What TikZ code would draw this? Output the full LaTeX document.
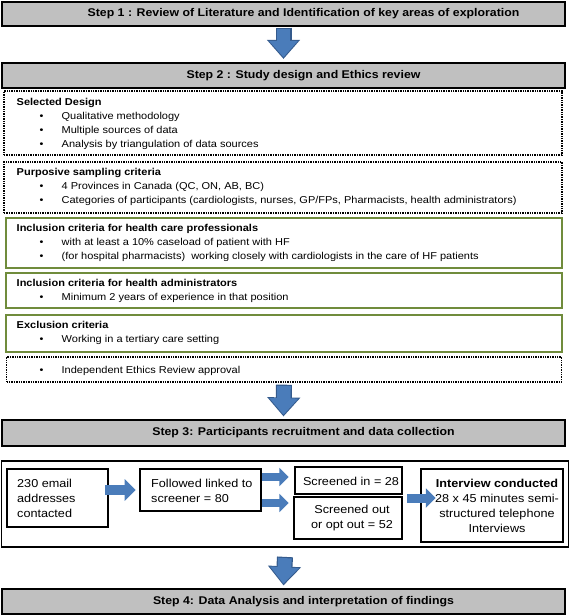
\documentclass[tikz,border=0pt]{standalone}
\usepackage{fontspec}
\setmainfont{Liberation Sans}[FakeStretch=1.1]
\usetikzlibrary{arrows.meta,calc}
\definecolor{stepgray}{RGB}{192,192,192}
\definecolor{boxgreen}{RGB}{112,140,60}
\definecolor{arrblue}{RGB}{74,124,186}
\definecolor{arrdark}{RGB}{52,90,140}
\newcommand{\itm}[1]{\hspace*{23pt}\makebox[22pt][l]{\textbullet}#1}
\newcommand{\stepshift}{\hspace*{40pt}}
\begin{document}
\begin{tikzpicture}[x=1pt,y=-1pt,
  stepbox/.style={draw=black,line width=2.2pt,fill=stepgray,inner sep=0pt,
     font=\bfseries\fontsize{11.2}{13}\selectfont,minimum width=563pt},
  dotbox/.style={draw=black,densely dotted,line width=1.4pt,inner sep=0pt},
  greenbox/.style={draw=boxgreen,line width=1.2pt,inner sep=0pt},
  listtext/.style={anchor=base west,align=left,inner sep=0pt,
     font=\fontsize{10}{14}\selectfont},
  rbox/.style={draw=black,line width=2.6pt,inner sep=0pt},
  bigbox/.style={draw=black,line width=1.8pt,inner sep=0pt},
  rtext/.style={align=left,inner sep=0pt,font=\fontsize{11.5}{15}\selectfont},
  bigarrowout/.style={draw=arrdark,line width=16pt,
     -{Triangle[width=32pt,length=19pt]}},
  bigarrowin/.style={draw=arrblue,line width=13.6pt,
     -{Triangle[width=28pt,length=16.5pt]}},
  smallarrow/.style={draw=arrblue,line width=#1,
     -{Triangle[width=2.1*#1,length=1.1*#1]}},
]
\useasboundingbox (0,0) rectangle (570,616);

% Step boxes
\node[stepbox,minimum height=24pt] (s1) at (283.5,14) {\stepshift Step 1 : Review of Literature and Identification of key areas of exploration};
\node[stepbox,minimum height=25pt] (s2) at (283.5,75.5) {\stepshift Step 2 : Study design and Ethics review};
\node[stepbox,minimum height=26pt] (s3) at (283.5,433) {\stepshift Step 3: Participants recruitment and data collection};
\node[stepbox,minimum height=25pt] (s4) at (283.5,601.5) {\stepshift Step 4: Data Analysis and interpretation of findings};

% Step 2 sub-boxes (text nodes anchored at the baseline of their last line)
\node[dotbox,minimum width=558pt,minimum height=64pt] (sel) at (283,123) {};
\node[listtext] (selt) at (16.5,147) {\textbf{Selected Design}\\
  \itm{Qualitative methodology}\\
  \itm{Multiple sources of data}\\
  \itm{Analysis by triangulation of data sources}};

\node[dotbox,minimum width=558pt,minimum height=51pt] (pur) at (283,187.5) {};
\node[listtext] (purt) at (16.5,203) {\textbf{Purposive sampling criteria}\\
  \itm{4 Provinces in Canada (QC, ON, AB, BC)}\\
  \itm{Categories of participants (cardiologists, nurses, GP/FPs, Pharmacists, health administrators)}};

\node[greenbox,minimum width=556pt,minimum height=50pt] (hcp) at (284,243) {};
\node[listtext] (hcpt) at (16.5,259) {\textbf{Inclusion criteria for health care professionals}\\
  \itm{with at least a 10\% caseload of patient with HF}\\
  \itm{(for hospital pharmacists)\ \ working closely with cardiologists in the care of HF patients}};

\node[greenbox,minimum width=556pt,minimum height=35pt] (adm) at (284,290.5) {};
\node[listtext] (admt) at (16.5,300) {\textbf{Inclusion criteria for health administrators}\\
  \itm{Minimum 2 years of experience in that position}};

\node[greenbox,minimum width=556pt,minimum height=37pt] (exc) at (284,333.5) {};
\node[listtext] (exct) at (16.5,342) {\textbf{Exclusion criteria}\\
  \itm{Working in a tertiary care setting}};

\node[dotbox,minimum width=555pt,minimum height=25pt] (eth) at (284,369.5) {};
\node[listtext] (etht) at (16.5,373) {\itm{Independent Ethics Review approval}};

% Recruitment
\node[bigbox,minimum width=567pt,minimum height=86pt] (big) at (285,504) {};
\node[rbox,minimum width=101pt,minimum height=58pt] (e1) at (57.5,498) {};
\node[rtext,anchor=base west] (e1t) at (17,517) {230 email\\addresses\\contacted};
\node[rbox,minimum width=121pt,minimum height=42pt] (fl) at (200.5,490) {};
\node[rtext,anchor=base west] (flt) at (151,502) {Followed linked to\\screener = 80};
\node[rbox,minimum width=107pt,minimum height=27pt] (si) at (348.5,480.5) {};
\node[rtext,align=center] (sit) at (351,481) {Screened in = 28};
\node[rbox,minimum width=108pt,minimum height=42pt] (so) at (348,518) {};
\node[rtext,align=center] (sot) at (352,518.5) {Screened out\\or opt out = 52};
\node[rbox,minimum width=142pt,minimum height=73pt] (iv) at (492,505.5) {};
\node[rtext,align=center] (ivt) at (497,505.5) {\textbf{Interview conducted}\\28 x 45 minutes semi-\\structured telephone\\Interviews};

% Big block arrows
\draw[bigarrowout] ($(s1.south)+(0,0.5)$) -- ($(s2.north)+(0,-3)$);
\draw[bigarrowin] ($(s1.south)+(0,1.7)$) -- ($(s2.north)+(0,-4.6)$);
\draw[bigarrowout] ($(eth.south)+(0,2)$) -- ($(s3.north)+(0,-2.5)$);
\draw[bigarrowin] ($(eth.south)+(0,3.2)$) -- ($(s3.north)+(0,-4.1)$);
\draw[bigarrowout] ($(big.south)+(0,9)$) -- ($(s4.north)+(0,-2.5)$);
\draw[bigarrowin] ($(big.south)+(0,10.2)$) -- ($(s4.north)+(0,-4.1)$);

% Small arrows
\coordinate (a1s) at ($(e1.east |- fl.west)+(-4,0)$);
\coordinate (a1e) at ($(fl.west)+(-3,0)$);
\draw[smallarrow=10pt] (a1s) -- (a1e);
\coordinate (a2s) at ($(fl.east)+(0,-13)$);
\coordinate (a2e) at ($(si.west |- a2s)+(-5,0)$);
\draw[smallarrow=8.5pt] (a2s) -- (a2e);
\coordinate (a3s) at ($(fl.east)+(0,13)$);
\coordinate (a3e) at ($(so.west |- a3s)+(-4,0)$);
\draw[smallarrow=8.5pt] (a3s) -- (a3e);
\coordinate (a4s) at ($(si.east |- iv.west)+(4,-7.5)$);
\coordinate (a4e) at ($(iv.west)+(16,-7.5)$);
\draw[smallarrow=9pt] (a4s) -- (a4e);
\end{tikzpicture}
\end{document}
